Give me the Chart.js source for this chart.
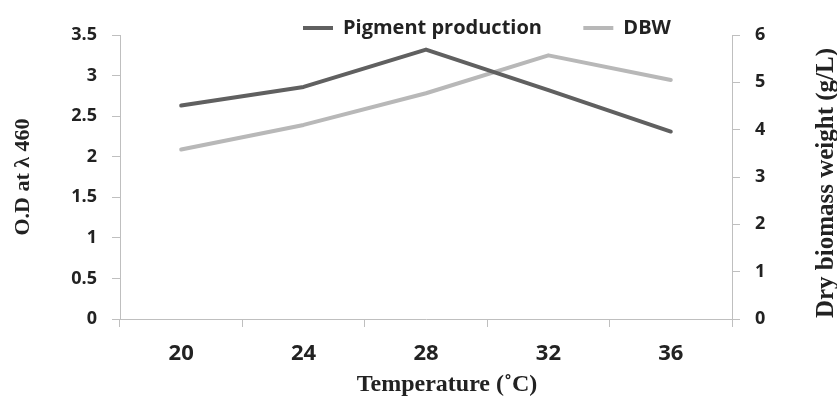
<!DOCTYPE html>
<html>
<head>
<meta charset="utf-8">
<script src="https://cdn.jsdelivr.net/npm/chart.js@4"></script>
<style>
  html, body { margin: 0; padding: 0; background: #fff; }
  #wrap { width: 837px; height: 399px; }
</style>
</head>
<body>
<div id="wrap"><canvas id="chart" width="837" height="399"></canvas></div>
<script>
// temperatures on the x axis
const temperatures = ['20', '24', '28', '32', '36'];
// O.D at 460 nm (left axis)
const pigmentOD = [2.63, 2.86, 3.32, 2.82, 2.31];
// dry biomass weight g/L (right axis)
const dryBiomass = [3.58, 4.1, 4.77, 5.57, 5.05];

const leftTitle = 'O.D at \u03bb 460';
const rightTitle = 'Dry biomass weight (g/L)';
const bottomTitle = 'Temperature (\u02daC)';

const axisGray = '#bfbfbf';
const textColor = '#222222';

// right axis title reads bottom-to-top, so draw it here
const rightTitlePlugin = {
    id: 'rightTitle',
    afterDraw(chart) {
        const ctx = chart.ctx;
        const area = chart.chartArea;
        ctx.save();
        ctx.translate(827, (area.top + area.bottom) / 2 + 6);
        ctx.rotate(-Math.PI / 2);
        ctx.font = 'bold 25px "Liberation Serif"';
        ctx.fillStyle = textColor;
        ctx.textAlign = 'center';
        ctx.textBaseline = 'middle';
        ctx.fillText(rightTitle, 0, 0);
        ctx.restore();
    }
};

// move the legend over to the right, a bit down into the plot top
const legendShift = {
    id: 'legendShift',
    afterLayout(chart) {
        const lg = chart.legend;
        lg.left += 298; lg.right += 298;
        lg.top += 13; lg.bottom += 13;
    }
};

const ctx = document.getElementById('chart').getContext('2d');
new Chart(ctx, {
    type: 'line',
    data: {
        labels: temperatures,
        datasets: [{
            label: 'Pigment production',
            data: pigmentOD,
            yAxisID: 'y',
            borderColor: '#606060',
            backgroundColor: '#606060',
            borderWidth: 4,
            pointRadius: 0,
            borderJoinStyle: 'round',
            borderCapStyle: 'round'
        }, {
            label: 'DBW',
            data: dryBiomass,
            yAxisID: 'y1',
            borderColor: '#b8b8b8',
            backgroundColor: '#b8b8b8',
            borderWidth: 4,
            pointRadius: 0,
            borderJoinStyle: 'round',
            borderCapStyle: 'round'
        }]
    },
    options: {
        responsive: false,
        animation: false,
        layout: { padding: 0 },
        plugins: {
            tooltip: { enabled: false },
            legend: {
                position: 'top',
                align: 'start',
                labels: {
                    boxWidth: 30,
                    boxHeight: 4,
                    padding: 5,
                    color: textColor,
                    font: { family: '"Open Sans"', size: 20, weight: 'bold' },
                    generateLabels(chart) {
                        const items = Chart.defaults.plugins.legend.labels.generateLabels(chart);
                        items.forEach(it => { it.lineWidth = 0; it.fillStyle = it.strokeStyle; });
                        items[0].text += '\u00a0'.repeat(7);
                        return items;
                    }
                }
            }
        },
        scales: {
            x: {
                offset: true,
                afterFit(scale) { scale.height = 80; },
                border: { color: axisGray, width: 1 },
                grid: { drawOnChartArea: false, color: axisGray, tickLength: 8, offset: true },
                ticks: {
                    color: textColor,
                    padding: 14,
                    font: { family: '"Open Sans"', size: 22, weight: 'bold' }
                },
                title: {
                    display: true,
                    text: '\u00a0'.repeat(7) + bottomTitle,
                    color: textColor,
                    padding: { top: 0, bottom: 0 },
                    font: { family: '"Liberation Serif"', size: 24, weight: 'bold' }
                }
            },
            y: {
                position: 'left',
                min: 0,
                max: 3.5,
                afterFit(scale) { scale.width = 120; },
                border: { color: axisGray, width: 1 },
                grid: { drawOnChartArea: false, color: axisGray, tickLength: 8 },
                ticks: {
                    stepSize: 0.5,
                    color: textColor,
                    padding: 15,
                    callback: v => String(+v.toFixed(1)),
                    font: { family: '"Open Sans"', size: 18, weight: 'bold' }
                },
                title: {
                    display: true,
                    text: leftTitle,
                    color: textColor,
                    padding: { top: 10, bottom: 0 },
                    font: { family: '"Liberation Serif"', size: 22, weight: 'bold' }
                }
            },
            y1: {
                position: 'right',
                min: 0,
                max: 6,
                afterFit(scale) { scale.width = 105; },
                border: { color: axisGray, width: 1 },
                grid: { drawOnChartArea: false, color: axisGray, tickLength: 8 },
                ticks: {
                    stepSize: 1,
                    color: textColor,
                    padding: 15,
                    font: { family: '"Open Sans"', size: 18, weight: 'bold' }
                }
            }
        }
    },
    plugins: [rightTitlePlugin, legendShift]
});
</script>
</body>
</html>
